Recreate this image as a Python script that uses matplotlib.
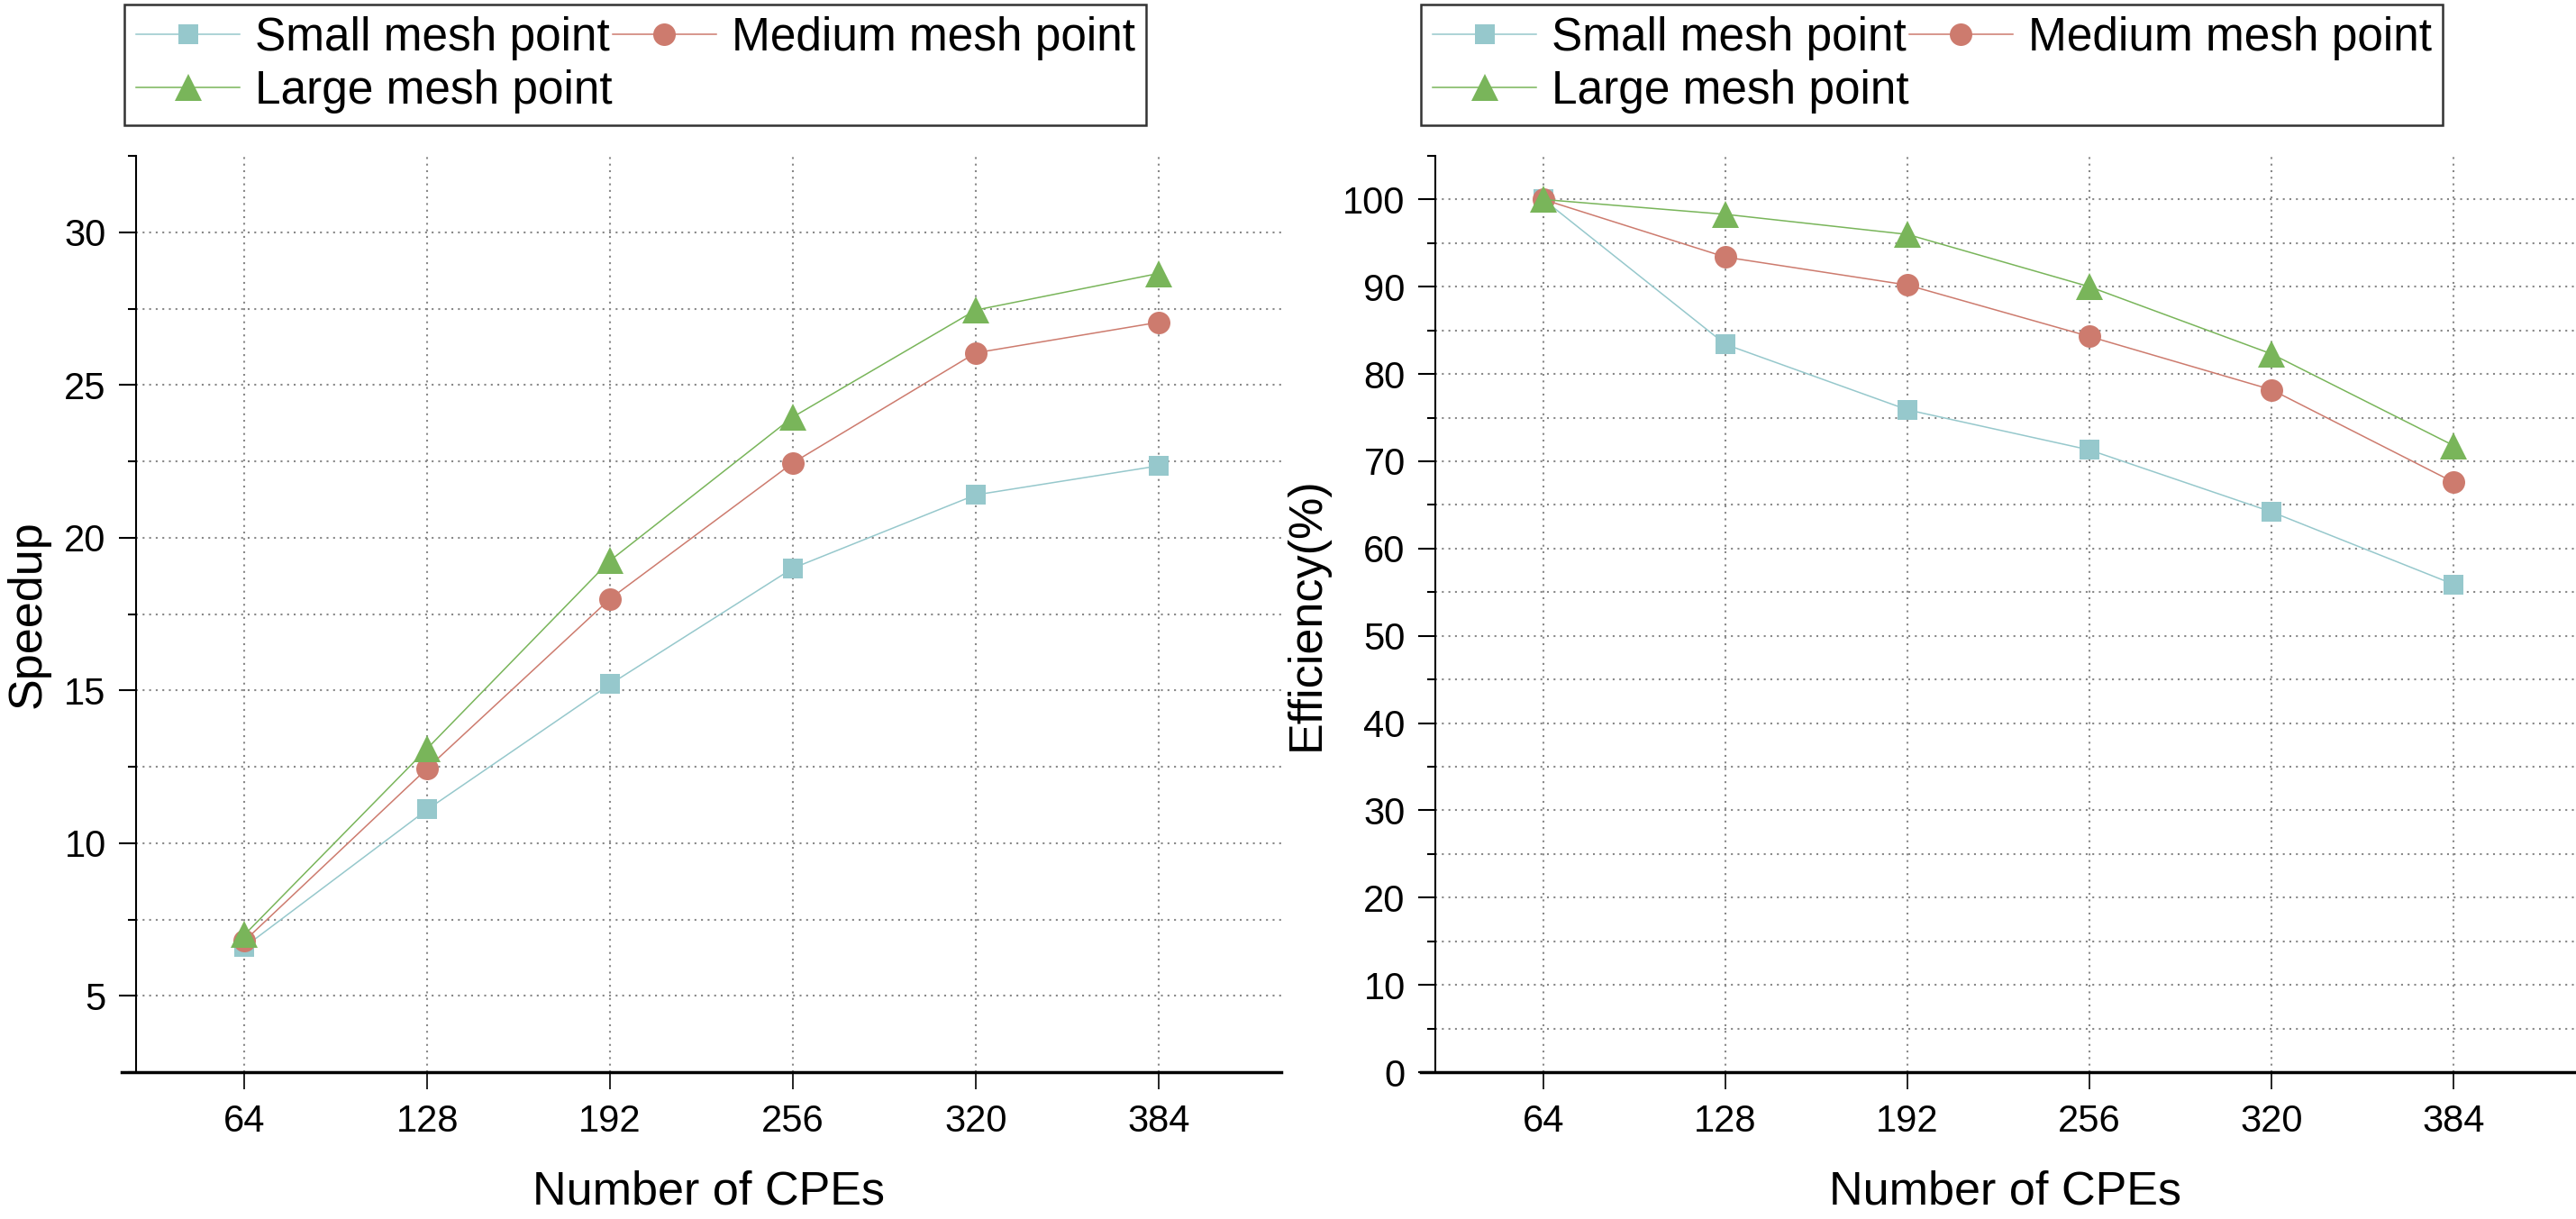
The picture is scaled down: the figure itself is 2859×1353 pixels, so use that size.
import matplotlib
matplotlib.use("Agg")
import matplotlib.pyplot as plt
from matplotlib.ticker import MultipleLocator

plt.rcParams["font.family"] = ["Liberation Sans", "DejaVu Sans"]

# Dados
cpes = [64, 128, 192, 256, 320, 384]
series_labels = ["Small mesh point", "Medium mesh point", "Large mesh point"]

speedup_small  = [6.6, 11.1, 15.2, 19.0, 21.4, 22.35]
speedup_medium = [6.8, 12.45, 18.0, 22.45, 26.05, 27.05]
speedup_large  = [7.0, 13.1, 19.25, 23.95, 27.45, 28.65]

eff_small  = [100, 83.4, 75.9, 71.3, 64.2, 55.9]
eff_medium = [100, 93.4, 90.2, 84.3, 78.2, 67.6]
eff_large  = [100, 98.3, 96.0, 90.0, 82.3, 71.8]

colors  = ["#96C8CC", "#CD7B6E", "#79B55A"]
markers = ["s", "o", "^"]
msizes  = [16, 18, 22]

W, H = 2859, 1353
fig = plt.figure(figsize=(W / 100, H / 100), dpi=100)

ax1 = fig.add_axes([151 / W, 163 / H, 1271 / W, 1017 / H])
ax2 = fig.add_axes([1593 / W, 163 / H, 1266 / W, 1017 / H])

grid_style = dict(color="#888888", lw=1.5, linestyle=(0, (1, 2.5)), zorder=0)


def style_axis(ax, ylabel):
    for s in ["top", "right"]:
        ax.spines[s].set_visible(False)
    ax.spines["left"].set_linewidth(1.5)
    ax.spines["bottom"].set_linewidth(2.5)
    ax.set_xlim(26, 427)
    ax.spines["bottom"].set_bounds(21, 427)
    ax.set_xticks(cpes)
    ax.tick_params(axis="x", which="major", direction="out", length=14, width=1.2,
                   pad=11, labelsize=30)
    ax.tick_params(axis="y", which="major", direction="out", length=14, width=1.5,
                   pad=10, labelsize=30)
    ax.tick_params(axis="y", which="minor", direction="out", length=6.5, width=1.5)
    ax.grid(True, axis="x", which="major", **{k: v for k, v in grid_style.items()
                                              if k != "zorder"})
    # linhas horizontais em todos os ticks, menos no topo do eixo
    y0, y1 = ax.get_ylim()
    ylocs = sorted(set(ax.get_yticks()) | set(ax.get_yticks(minor=True)))
    for yv in ylocs:
        if y0 < yv < y1 - 1e-9:
            ax.axhline(yv, **grid_style)
    ax.set_axisbelow(True)
    ax.set_xlabel("Number of CPEs", fontsize=37.5, labelpad=24)
    ax.set_ylabel(ylabel, fontsize=37.5, labelpad=11)


# ── Speedup ───────────────────────────────────────────────
for vals, lab, c, m, ms in zip([speedup_small, speedup_medium, speedup_large],
                               series_labels, colors, markers, msizes):
    ax1.plot(cpes, vals, color=c, marker=m, markersize=ms, lw=1.1, label=lab,
             markeredgewidth=0, zorder=3)
ax1.set_ylim(2.5, 32.5)
ax1.yaxis.set_major_locator(MultipleLocator(5))
ax1.yaxis.set_minor_locator(MultipleLocator(2.5))
style_axis(ax1, "Speedup")

# ── Efficiency ────────────────────────────────────────────
for vals, lab, c, m, ms in zip([eff_small, eff_medium, eff_large],
                               series_labels, colors, markers, msizes):
    ax2.plot(cpes, vals, color=c, marker=m, markersize=ms, lw=1.1, label=lab,
             markeredgewidth=0, zorder=3)
ax2.set_ylim(0, 105)
ax2.yaxis.set_major_locator(MultipleLocator(10))
ax2.yaxis.set_minor_locator(MultipleLocator(5))
style_axis(ax2, "Efficiency(%)")

# legenda preenchida por linhas: Small, Medium / Large
for ax, x0 in [(ax1, 138), (ax2, 1577)]:
    h, l = ax.get_legend_handles_labels()
    order = [0, 2, 1]
    leg = ax.legend([h[i] for i in order], [l[i] for i in order],
                    loc="upper left", bbox_to_anchor=(x0 / W, 1 - 5 / H),
                    bbox_transform=fig.transFigure, ncol=2, fontsize=37,
                    frameon=True, fancybox=False, borderaxespad=0,
                    handlelength=2.25, handletextpad=0.32, columnspacing=0.0,
                    labelspacing=0.2, borderpad=0.25)
    leg.get_frame().set_edgecolor("black")
    leg.get_frame().set_linewidth(1.8)

plt.savefig("out.png", dpi=100)
